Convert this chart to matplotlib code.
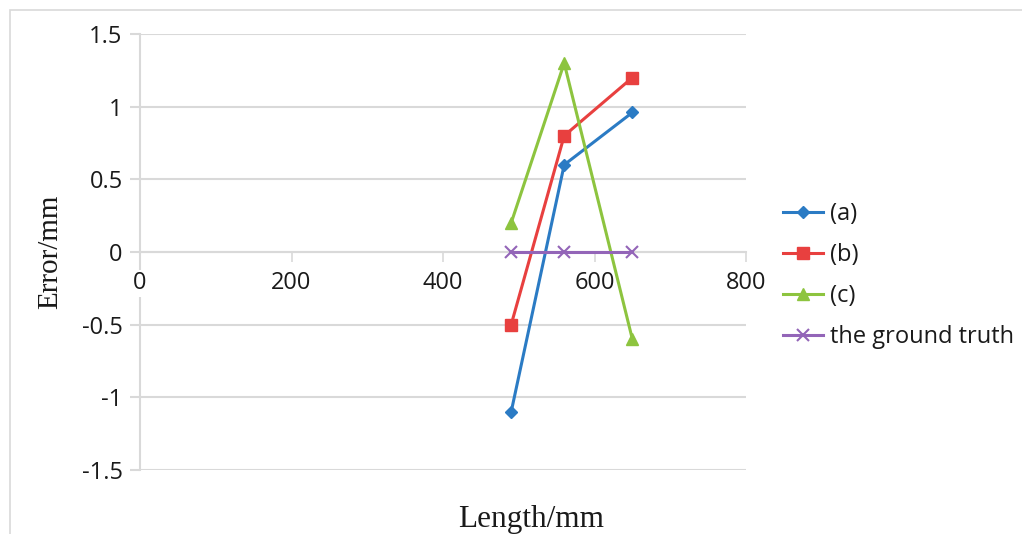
import matplotlib
matplotlib.use("Agg")
import matplotlib.pyplot as plt
from matplotlib.patches import Rectangle

# data
lengths = [490, 560, 650]
err_a = [-1.1, 0.6, 0.96]
err_b = [-0.5, 0.8, 1.2]
err_c = [0.2, 1.3, -0.6]
truth = [0, 0, 0]
names = ["(a)", "(b)", "(c)", "the ground truth"]

x_ticks = [0, 200, 400, 600, 800]
y_ticks = [-1.5, -1, -0.5, 0, 0.5, 1, 1.5]
y_labels = ["-1.5", "-1", "-0.5", "0", "0.5", "1", "1.5"]

grid_col = "#d9d9d9"
txt_col = "#1a1a1a"
sans = "Open Sans"
serif = "Liberation Serif"

fig = plt.figure(figsize=(10.22, 5.34), dpi=100)
fig.patches.append(Rectangle((10 / 1022, -0.1), 1.2, 1 - 10 / 534 + 0.1,
                             transform=fig.transFigure, fill=False,
                             edgecolor=grid_col, linewidth=1.2))
ax = fig.add_axes([140 / 1022, 1 - 470 / 534, (746 - 140) / 1022, (470 - 34) / 534])

ax.spines["bottom"].set_position(("data", 0))

ax.plot(lengths, err_a, color="#2b7bc4", marker="D", markersize=6, lw=2.2, label=names[0])
ax.plot(lengths, err_b, color="#e8403f", marker="s", markersize=8, lw=2.2, label=names[1])
ax.plot(lengths, err_c, color="#8dc43f", marker="^", markersize=9, lw=2.2, label=names[2])
ax.plot(lengths, truth, color="#9365b8", marker="x", markersize=8, mew=1.5, lw=2.2, label=names[3])

ax.set_xlim(0, 800)
ax.set_ylim(-1.5, 1.5)
ax.set_xticks(x_ticks)
ax.set_xticklabels([str(v) for v in x_ticks])
ax.set_yticks(y_ticks)
ax.set_yticklabels(y_labels)
for lab in ax.get_xticklabels() + ax.get_yticklabels():
    lab.set_fontfamily(sans)
    lab.set_fontsize(17)
    lab.set_color(txt_col)
ax.get_xticklabels()[0].set_bbox(dict(facecolor="white", edgecolor="none", pad=1))

ax.yaxis.grid(True, color=grid_col, lw=1.5)
ax.set_axisbelow(True)
for s in ["top", "right"]:
    ax.spines[s].set_visible(False)
for s in ["bottom", "left"]:
    ax.spines[s].set_color(grid_col)
    ax.spines[s].set_linewidth(1.5)
    ax.spines[s].set_zorder(0.4)
ax.tick_params(axis="x", length=7, width=1.2, color=grid_col, pad=7)
ax.tick_params(axis="y", length=7.5, width=1.5, color=grid_col, pad=5)

fig.text(50 / 1022, 1 - 252 / 534, "Error/mm", rotation=90, ha="center", va="center",
         fontfamily=serif, fontsize=21, color=txt_col)
fig.text(531 / 1022, 1 - 519 / 534, "Length/mm", ha="center", va="center",
         fontfamily=serif, fontsize=22.5, color=txt_col)

leg = ax.legend(loc="center left", bbox_to_anchor=(762 / 1022, 1 - 275.5 / 534),
                bbox_transform=fig.transFigure, frameon=False,
                prop={"family": sans, "size": 17}, handlelength=1.7,
                labelspacing=0.72, handletextpad=0.3)
for t in leg.get_texts():
    t.set_color(txt_col)

fig.savefig("out.png", dpi=100)
